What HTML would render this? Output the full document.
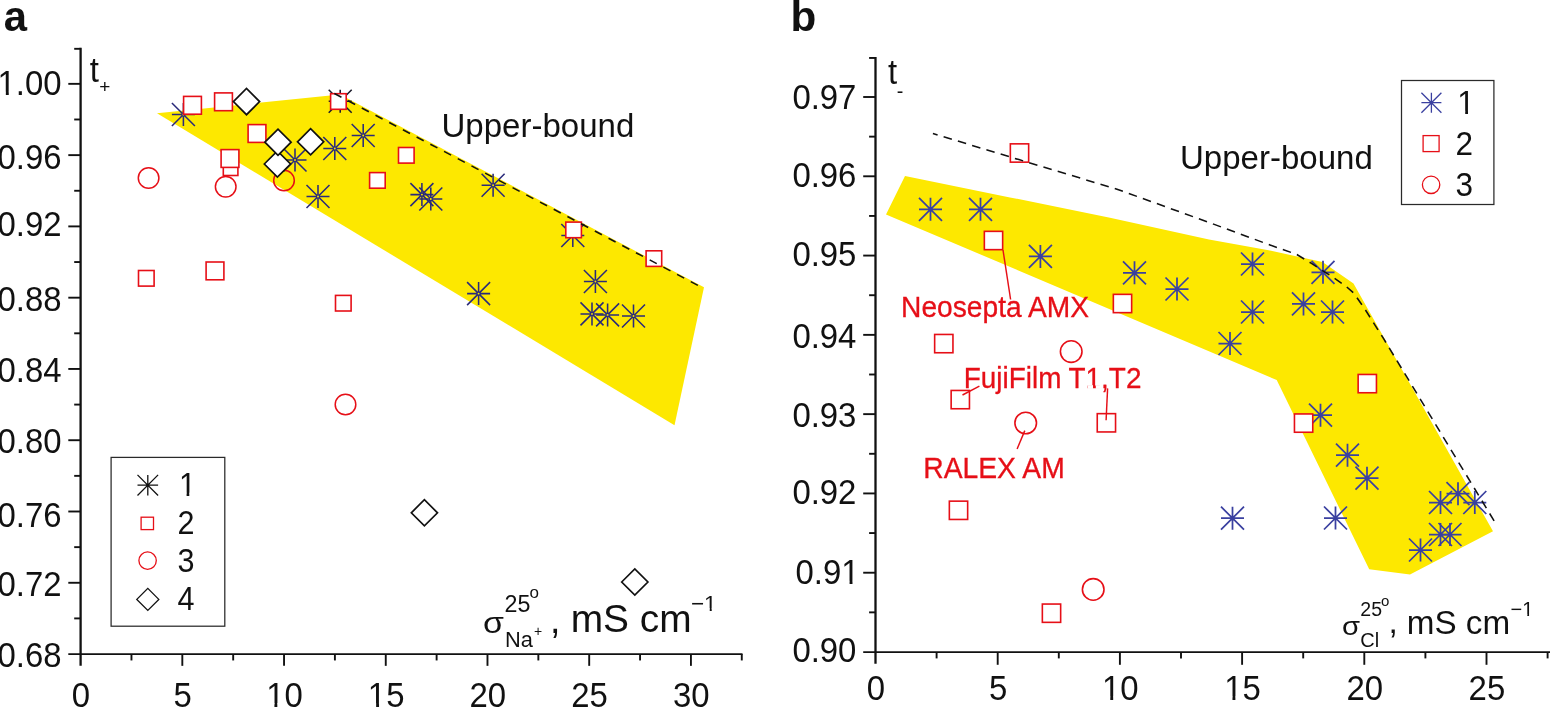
<!DOCTYPE html>
<html lang="en"><head><meta charset="utf-8"><title>Figure: transport numbers vs conductivity</title>
<style>
html,body{margin:0;padding:0;background:#fff;}
body{width:1550px;height:708px;overflow:hidden;}
svg{display:block;}
text{font-family:"Liberation Sans",Arial,sans-serif;}
</style></head><body>
<svg width="1550" height="708" viewBox="0 0 1550 708">
<rect width="1550" height="708" fill="#fff"/>
<polygon points="157,113.3 340,94.5 704,287.3 674.5,425.2" fill="#fde800"/>
<line x1="80.6" y1="47.86" x2="80.6" y2="665.85" stroke="#111111" stroke-width="2.3" />
<line x1="68.3" y1="654.05" x2="742.5" y2="654.05" stroke="#111111" stroke-width="1.8" />
<line x1="68.3" y1="83.85" x2="80.6" y2="83.85" stroke="#111111" stroke-width="1.9" />
<text transform="translate(61.6 95.1) scale(0.94 1)" font-size="35" fill="#111111" text-anchor="end" >1.00</text>
<rect x="-0.73" y="91.79" width="6.57" height="4.21" fill="#fff"/>
<rect x="8.75" y="91.79" width="6.31" height="4.21" fill="#fff"/>
<line x1="74.2" y1="48.81" x2="80.6" y2="48.81" stroke="#111111" stroke-width="1.9" />
<line x1="68.3" y1="155.13" x2="80.6" y2="155.13" stroke="#111111" stroke-width="1.9" />
<text transform="translate(61.6 168.9) scale(0.94 1)" font-size="35" fill="#111111" text-anchor="end" >0.96</text>
<line x1="74.2" y1="119.49" x2="80.6" y2="119.49" stroke="#111111" stroke-width="1.9" />
<line x1="68.3" y1="226.4" x2="80.6" y2="226.4" stroke="#111111" stroke-width="1.9" />
<text transform="translate(61.6 236) scale(0.94 1)" font-size="35" fill="#111111" text-anchor="end" >0.92</text>
<line x1="74.2" y1="190.76" x2="80.6" y2="190.76" stroke="#111111" stroke-width="1.9" />
<line x1="68.3" y1="297.68" x2="80.6" y2="297.68" stroke="#111111" stroke-width="1.9" />
<text transform="translate(61.6 311.45) scale(0.94 1)" font-size="35" fill="#111111" text-anchor="end" >0.88</text>
<line x1="74.2" y1="262.04" x2="80.6" y2="262.04" stroke="#111111" stroke-width="1.9" />
<line x1="68.3" y1="368.95" x2="80.6" y2="368.95" stroke="#111111" stroke-width="1.9" />
<text transform="translate(61.6 382.2) scale(0.94 1)" font-size="35" fill="#111111" text-anchor="end" >0.84</text>
<line x1="74.2" y1="333.31" x2="80.6" y2="333.31" stroke="#111111" stroke-width="1.9" />
<line x1="68.3" y1="440.22" x2="80.6" y2="440.22" stroke="#111111" stroke-width="1.9" />
<text transform="translate(61.6 452.7) scale(0.94 1)" font-size="35" fill="#111111" text-anchor="end" >0.80</text>
<line x1="74.2" y1="404.59" x2="80.6" y2="404.59" stroke="#111111" stroke-width="1.9" />
<line x1="68.3" y1="511.5" x2="80.6" y2="511.5" stroke="#111111" stroke-width="1.9" />
<text transform="translate(61.6 526.7) scale(0.94 1)" font-size="35" fill="#111111" text-anchor="end" >0.76</text>
<line x1="74.2" y1="475.86" x2="80.6" y2="475.86" stroke="#111111" stroke-width="1.9" />
<line x1="68.3" y1="582.78" x2="80.6" y2="582.78" stroke="#111111" stroke-width="1.9" />
<text transform="translate(61.6 595.5) scale(0.94 1)" font-size="35" fill="#111111" text-anchor="end" >0.72</text>
<line x1="74.2" y1="547.14" x2="80.6" y2="547.14" stroke="#111111" stroke-width="1.9" />
<text transform="translate(61.6 667.25) scale(0.94 1)" font-size="35" fill="#111111" text-anchor="end" >0.68</text>
<line x1="74.2" y1="618.41" x2="80.6" y2="618.41" stroke="#111111" stroke-width="1.9" />
<text transform="translate(81 706.5) scale(0.94 1)" font-size="35" fill="#111111" text-anchor="middle" >0</text>
<line x1="131.46" y1="654.05" x2="131.46" y2="660.45" stroke="#111111" stroke-width="1.9" />
<line x1="182.32" y1="654.05" x2="182.32" y2="665.85" stroke="#111111" stroke-width="1.9" />
<text transform="translate(182.72 706.5) scale(0.94 1)" font-size="35" fill="#111111" text-anchor="middle" >5</text>
<line x1="233.18" y1="654.05" x2="233.18" y2="660.45" stroke="#111111" stroke-width="1.9" />
<line x1="284.04" y1="654.05" x2="284.04" y2="665.85" stroke="#111111" stroke-width="1.9" />
<text transform="translate(284.44 706.5) scale(0.94 1)" font-size="35" fill="#111111" text-anchor="middle" >10</text>
<rect x="267.85" y="703.19" width="6.57" height="4.21" fill="#fff"/>
<rect x="277.32" y="703.19" width="6.31" height="4.21" fill="#fff"/>
<line x1="334.9" y1="654.05" x2="334.9" y2="660.45" stroke="#111111" stroke-width="1.9" />
<line x1="385.76" y1="654.05" x2="385.76" y2="665.85" stroke="#111111" stroke-width="1.9" />
<text transform="translate(386.16 706.5) scale(0.94 1)" font-size="35" fill="#111111" text-anchor="middle" >15</text>
<rect x="369.57" y="703.19" width="6.57" height="4.21" fill="#fff"/>
<rect x="379.04" y="703.19" width="6.31" height="4.21" fill="#fff"/>
<line x1="436.62" y1="654.05" x2="436.62" y2="660.45" stroke="#111111" stroke-width="1.9" />
<line x1="487.48" y1="654.05" x2="487.48" y2="665.85" stroke="#111111" stroke-width="1.9" />
<text transform="translate(487.88 706.5) scale(0.94 1)" font-size="35" fill="#111111" text-anchor="middle" >20</text>
<line x1="538.34" y1="654.05" x2="538.34" y2="660.45" stroke="#111111" stroke-width="1.9" />
<line x1="589.2" y1="654.05" x2="589.2" y2="665.85" stroke="#111111" stroke-width="1.9" />
<text transform="translate(589.6 706.5) scale(0.94 1)" font-size="35" fill="#111111" text-anchor="middle" >25</text>
<line x1="640.06" y1="654.05" x2="640.06" y2="660.45" stroke="#111111" stroke-width="1.9" />
<line x1="690.92" y1="654.05" x2="690.92" y2="665.85" stroke="#111111" stroke-width="1.9" />
<text transform="translate(691.32 706.5) scale(0.94 1)" font-size="35" fill="#111111" text-anchor="middle" >30</text>
<line x1="741.78" y1="654.05" x2="741.78" y2="660.45" stroke="#111111" stroke-width="1.9" />
<mask id="holesA" maskUnits="userSpaceOnUse" x="0" y="0" width="775" height="708"><rect width="775" height="708" fill="#fff"/><circle cx="183.4" cy="114.5" r="0.95" fill="#000"/><circle cx="295" cy="160" r="0.95" fill="#000"/><circle cx="334.8" cy="148.5" r="0.95" fill="#000"/><circle cx="363.2" cy="135.5" r="0.95" fill="#000"/><circle cx="318" cy="196.5" r="0.95" fill="#000"/><circle cx="421.9" cy="194.6" r="0.95" fill="#000"/><circle cx="430.8" cy="199" r="0.95" fill="#000"/><circle cx="493.1" cy="185.3" r="0.95" fill="#000"/><circle cx="572.8" cy="235.5" r="0.95" fill="#000"/><circle cx="595.4" cy="281.5" r="0.95" fill="#000"/><circle cx="478.6" cy="293.6" r="0.95" fill="#000"/><circle cx="592" cy="313.9" r="0.95" fill="#000"/><circle cx="607.6" cy="314.9" r="0.95" fill="#000"/><circle cx="633.5" cy="316" r="0.95" fill="#000"/></mask>
<g mask="url(#holesA)">
<path d="M171.9 114.5H194.9M183.4 103V126M171.9 103L194.9 126M171.9 126L194.9 103" stroke="#2a2a7a" stroke-width="1.55" fill="none"/>
<path d="M283.5 160H306.5M295 148.5V171.5M283.5 148.5L306.5 171.5M283.5 171.5L306.5 148.5" stroke="#2a2a7a" stroke-width="1.55" fill="none"/>
<path d="M323.3 148.5H346.3M334.8 137V160M323.3 137L346.3 160M323.3 160L346.3 137" stroke="#2a2a7a" stroke-width="1.55" fill="none"/>
<path d="M351.7 135.5H374.7M363.2 124V147M351.7 124L374.7 147M351.7 147L374.7 124" stroke="#2a2a7a" stroke-width="1.55" fill="none"/>
<path d="M306.5 196.5H329.5M318 185V208M306.5 185L329.5 208M306.5 208L329.5 185" stroke="#2a2a7a" stroke-width="1.55" fill="none"/>
<path d="M410.4 194.6H433.4M421.9 183.1V206.1M410.4 183.1L433.4 206.1M410.4 206.1L433.4 183.1" stroke="#2a2a7a" stroke-width="1.55" fill="none"/>
<path d="M419.3 199H442.3M430.8 187.5V210.5M419.3 187.5L442.3 210.5M419.3 210.5L442.3 187.5" stroke="#2a2a7a" stroke-width="1.55" fill="none"/>
<path d="M481.6 185.3H504.6M493.1 173.8V196.8M481.6 173.8L504.6 196.8M481.6 196.8L504.6 173.8" stroke="#2a2a7a" stroke-width="1.55" fill="none"/>
<path d="M561.3 235.5H584.3M572.8 224V247M561.3 224L584.3 247M561.3 247L584.3 224" stroke="#2a2a7a" stroke-width="1.55" fill="none"/>
<path d="M583.9 281.5H606.9M595.4 270V293M583.9 270L606.9 293M583.9 293L606.9 270" stroke="#2a2a7a" stroke-width="1.55" fill="none"/>
<path d="M467.1 293.6H490.1M478.6 282.1V305.1M467.1 282.1L490.1 305.1M467.1 305.1L490.1 282.1" stroke="#2a2a7a" stroke-width="1.55" fill="none"/>
<path d="M580.5 313.9H603.5M592 302.4V325.4M580.5 302.4L603.5 325.4M580.5 325.4L603.5 302.4" stroke="#2a2a7a" stroke-width="1.55" fill="none"/>
<path d="M596.1 314.9H619.1M607.6 303.4V326.4M596.1 303.4L619.1 326.4M596.1 326.4L619.1 303.4" stroke="#2a2a7a" stroke-width="1.55" fill="none"/>
<path d="M622 316H645M633.5 304.5V327.5M622 304.5L645 327.5M622 327.5L645 304.5" stroke="#2a2a7a" stroke-width="1.55" fill="none"/>
</g>
<path d="M328.7 101.3H351.7M340.2 89.8V112.8M328.7 89.8L351.7 112.8M328.7 112.8L351.7 89.8" stroke="#1a1a2a" stroke-width="1.55" fill="none"/>
<text transform="translate(3.7 30.5) scale(1.0 1)" font-size="41.8" fill="#111111" font-weight="bold">a</text>
<text transform="translate(89.8 81.5) scale(0.94 1)" font-size="35" fill="#111111" >t</text>
<text transform="translate(99.2 93.4) scale(1.0 1)" font-size="19" fill="#111111" >+</text>
<text transform="translate(441.5 136.7) scale(0.98 1)" font-size="33.7" fill="#111111" >Upper-bound</text>
<rect x="223.3" y="160.9" width="14.6" height="14.6" stroke="#e60f17" stroke-width="1.6" fill="#fff"/>
<rect x="183.6" y="96.4" width="17.8" height="17.8" stroke="#e60f17" stroke-width="1.6" fill="#fff"/>
<rect x="214.6" y="92.9" width="17.8" height="17.8" stroke="#e60f17" stroke-width="1.6" fill="#fff"/>
<rect x="248.1" y="124.6" width="17.8" height="17.8" stroke="#e60f17" stroke-width="1.6" fill="#fff"/>
<rect x="221.1" y="149.6" width="17.8" height="17.8" stroke="#e60f17" stroke-width="1.6" fill="#fff"/>
<rect x="206.1" y="262" width="17.8" height="17.8" stroke="#e60f17" stroke-width="1.6" fill="#fff"/>
<rect x="330.6" y="93.7" width="15.6" height="15.6" stroke="#e60f17" stroke-width="1.6" fill="#fff"/>
<rect x="369.6" y="172.6" width="15.6" height="15.6" stroke="#e60f17" stroke-width="1.6" fill="#fff"/>
<rect x="138.5" y="270.5" width="15.6" height="15.6" stroke="#e60f17" stroke-width="1.6" fill="#fff"/>
<rect x="335.5" y="295.4" width="15.6" height="15.6" stroke="#e60f17" stroke-width="1.6" fill="#fff"/>
<rect x="398.5" y="147.5" width="15.6" height="15.6" stroke="#e60f17" stroke-width="1.6" fill="#fff"/>
<rect x="565.8" y="222.1" width="15.6" height="15.6" stroke="#e60f17" stroke-width="1.6" fill="#fff"/>
<rect x="646.1" y="250.8" width="15.6" height="15.6" stroke="#e60f17" stroke-width="1.6" fill="#fff"/>
<line x1="328" y1="90.2" x2="700" y2="286.5" stroke="#111111" stroke-width="1.55" stroke-dasharray="8 7.5" stroke-dashoffset="-7.2"/>
<circle cx="148.6" cy="178" r="10.3" stroke="#e60f17" stroke-width="1.5" fill="none"/>
<circle cx="225.7" cy="186.7" r="10.3" stroke="#e60f17" stroke-width="1.5" fill="none"/>
<circle cx="284" cy="180.5" r="10.3" stroke="#e60f17" stroke-width="1.5" fill="none"/>
<circle cx="345.5" cy="404.5" r="10.3" stroke="#e60f17" stroke-width="1.5" fill="none"/>
<path d="M264.3 164L277.4 150.9L290.5 164L277.4 177.1Z" stroke="#111111" stroke-width="1.7" fill="#fff"/>
<path d="M233.4 101.6L246.5 88.5L259.6 101.6L246.5 114.7Z" stroke="#111111" stroke-width="1.7" fill="#fff"/>
<path d="M264.9 142.2L278 129.1L291.1 142.2L278 155.3Z" stroke="#111111" stroke-width="1.7" fill="#fff"/>
<path d="M297.5 141.8L310.6 128.7L323.7 141.8L310.6 154.9Z" stroke="#111111" stroke-width="1.7" fill="#fff"/>
<path d="M411.3 512.8L424.4 499.7L437.5 512.8L424.4 525.9Z" stroke="#111111" stroke-width="1.7" fill="#fff"/>
<path d="M621.7 582L634.8 568.9L647.9 582L634.8 595.1Z" stroke="#111111" stroke-width="1.7" fill="#fff"/>
<rect x="111.1" y="457.4" width="113.7" height="168.8" fill="#fff" stroke="#2a2a2a" stroke-width="1.25"/>
<path d="M137.5 485.2H158.1M147.8 474.9V495.5M137.5 474.9L158.1 495.5M137.5 495.5L158.1 474.9" stroke="#111111" stroke-width="1.3" fill="none"/>
<rect x="141.1" y="517.2" width="12.4" height="12.4" stroke="#e60f17" stroke-width="1.3" fill="#fff"/>
<circle cx="147.6" cy="560.6" r="8.7" stroke="#e60f17" stroke-width="1.3" fill="none"/>
<path d="M136.8 599.4L147.8 588.4L158.8 599.4L147.8 610.4Z" stroke="#111111" stroke-width="1.3" fill="#fff"/>
<text transform="translate(178.9 495.9) scale(0.94 1)" font-size="32.5" fill="#111111" >1</text>
<rect x="180.43" y="492.77" width="6.16" height="4.03" fill="#fff"/>
<rect x="189.28" y="492.77" width="5.92" height="4.03" fill="#fff"/>
<text transform="translate(177.5 533.8) scale(0.94 1)" font-size="32.5" fill="#111111" >2</text>
<text transform="translate(177.5 572.1) scale(0.94 1)" font-size="32.5" fill="#111111" >3</text>
<text transform="translate(177.5 610.1) scale(0.94 1)" font-size="32.5" fill="#111111" >4</text>
<text transform="translate(483 632.5) scale(1.15 1)" font-size="29.5" fill="#111111" >σ</text>
<text transform="translate(504.5 611.5) scale(0.97 1)" font-size="24" fill="#111111" >25</text>
<text transform="translate(529.5 598.2) scale(1.0 1)" font-size="17" fill="#111111" >o</text>
<text transform="translate(505 647) scale(0.97 1)" font-size="22.5" fill="#111111" >Na</text>
<text transform="translate(534 635.5) scale(1.0 1)" font-size="14" fill="#111111" >+</text>
<text transform="translate(550 633) scale(0.95 1)" font-size="39.5" fill="#111111" >,</text>
<text transform="translate(570.7 632) scale(0.985 1)" font-size="39.5" fill="#111111" >mS cm</text>
<text transform="translate(716.6 610.7) scale(1.0 1)" font-size="22.5" fill="#111111" text-anchor="end" >−1</text>
<rect x="705" y="608.32" width="4.74" height="3.28" fill="#fff"/>
<rect x="711.73" y="608.32" width="4.57" height="3.28" fill="#fff"/>
<polygon points="905,176 1010,197.4 1110,217.7 1209,239.4 1270,250.6 1322.5,262 1353.5,283.5 1493,531.3 1410,574.4 1369.2,569.2 1276.7,380 886,214.4" fill="#fde800"/>
<line x1="875.5" y1="57.01" x2="875.5" y2="663.8" stroke="#111111" stroke-width="2.3" />
<line x1="863.2" y1="652" x2="1550" y2="652" stroke="#111111" stroke-width="1.75" />
<line x1="863.2" y1="97" x2="875.5" y2="97" stroke="#111111" stroke-width="1.9" />
<text transform="translate(856.4 109) scale(0.94 1)" font-size="35" fill="#111111" text-anchor="end" >0.97</text>
<line x1="869.1" y1="57.96" x2="875.5" y2="57.96" stroke="#111111" stroke-width="1.9" />
<line x1="863.2" y1="176.29" x2="875.5" y2="176.29" stroke="#111111" stroke-width="1.9" />
<text transform="translate(856.4 187.4) scale(0.94 1)" font-size="35" fill="#111111" text-anchor="end" >0.96</text>
<line x1="869.1" y1="136.64" x2="875.5" y2="136.64" stroke="#111111" stroke-width="1.9" />
<line x1="863.2" y1="255.57" x2="875.5" y2="255.57" stroke="#111111" stroke-width="1.9" />
<text transform="translate(856.4 266) scale(0.94 1)" font-size="35" fill="#111111" text-anchor="end" >0.95</text>
<line x1="869.1" y1="215.93" x2="875.5" y2="215.93" stroke="#111111" stroke-width="1.9" />
<line x1="863.2" y1="334.86" x2="875.5" y2="334.86" stroke="#111111" stroke-width="1.9" />
<text transform="translate(856.4 347.8) scale(0.94 1)" font-size="35" fill="#111111" text-anchor="end" >0.94</text>
<line x1="869.1" y1="295.22" x2="875.5" y2="295.22" stroke="#111111" stroke-width="1.9" />
<line x1="863.2" y1="414.14" x2="875.5" y2="414.14" stroke="#111111" stroke-width="1.9" />
<text transform="translate(856.4 426.7) scale(0.94 1)" font-size="35" fill="#111111" text-anchor="end" >0.93</text>
<line x1="869.1" y1="374.5" x2="875.5" y2="374.5" stroke="#111111" stroke-width="1.9" />
<line x1="863.2" y1="493.43" x2="875.5" y2="493.43" stroke="#111111" stroke-width="1.9" />
<text transform="translate(856.4 503.6) scale(0.94 1)" font-size="35" fill="#111111" text-anchor="end" >0.92</text>
<line x1="869.1" y1="453.79" x2="875.5" y2="453.79" stroke="#111111" stroke-width="1.9" />
<line x1="863.2" y1="572.72" x2="875.5" y2="572.72" stroke="#111111" stroke-width="1.9" />
<text transform="translate(859.6 584.2) scale(0.94 1)" font-size="35" fill="#111111" text-anchor="end" >0.91</text>
<rect x="843.01" y="580.89" width="6.57" height="4.21" fill="#fff"/>
<rect x="852.48" y="580.89" width="6.31" height="4.21" fill="#fff"/>
<line x1="869.1" y1="533.07" x2="875.5" y2="533.07" stroke="#111111" stroke-width="1.9" />
<text transform="translate(856.4 661.8) scale(0.94 1)" font-size="35" fill="#111111" text-anchor="end" >0.90</text>
<line x1="869.1" y1="612.36" x2="875.5" y2="612.36" stroke="#111111" stroke-width="1.9" />
<text transform="translate(875.9 699.8) scale(0.94 1)" font-size="35" fill="#111111" text-anchor="middle" >0</text>
<line x1="936.6" y1="652" x2="936.6" y2="658.4" stroke="#111111" stroke-width="1.9" />
<line x1="997.7" y1="652" x2="997.7" y2="664.8" stroke="#111111" stroke-width="1.9" />
<text transform="translate(998.1 699.8) scale(0.94 1)" font-size="35" fill="#111111" text-anchor="middle" >5</text>
<line x1="1058.8" y1="652" x2="1058.8" y2="658.4" stroke="#111111" stroke-width="1.9" />
<line x1="1119.9" y1="652" x2="1119.9" y2="664.8" stroke="#111111" stroke-width="1.9" />
<text transform="translate(1120.3 699.8) scale(0.94 1)" font-size="35" fill="#111111" text-anchor="middle" >10</text>
<rect x="1103.71" y="696.49" width="6.57" height="4.21" fill="#fff"/>
<rect x="1113.18" y="696.49" width="6.31" height="4.21" fill="#fff"/>
<line x1="1181" y1="652" x2="1181" y2="658.4" stroke="#111111" stroke-width="1.9" />
<line x1="1242.1" y1="652" x2="1242.1" y2="664.8" stroke="#111111" stroke-width="1.9" />
<text transform="translate(1242.5 699.8) scale(0.94 1)" font-size="35" fill="#111111" text-anchor="middle" >15</text>
<rect x="1225.91" y="696.49" width="6.57" height="4.21" fill="#fff"/>
<rect x="1235.38" y="696.49" width="6.31" height="4.21" fill="#fff"/>
<line x1="1303.2" y1="652" x2="1303.2" y2="658.4" stroke="#111111" stroke-width="1.9" />
<line x1="1364.3" y1="652" x2="1364.3" y2="664.8" stroke="#111111" stroke-width="1.9" />
<text transform="translate(1364.7 699.8) scale(0.94 1)" font-size="35" fill="#111111" text-anchor="middle" >20</text>
<line x1="1425.4" y1="652" x2="1425.4" y2="658.4" stroke="#111111" stroke-width="1.9" />
<line x1="1486.5" y1="652" x2="1486.5" y2="664.8" stroke="#111111" stroke-width="1.9" />
<text transform="translate(1486.9 699.8) scale(0.94 1)" font-size="35" fill="#111111" text-anchor="middle" >25</text>
<line x1="1547.6" y1="652" x2="1547.6" y2="658.4" stroke="#111111" stroke-width="1.9" />
<text transform="translate(790.6 30.8) scale(1.0 1)" font-size="42.2" fill="#111111" font-weight="bold">b</text>
<text transform="translate(888 83.5) scale(0.94 1)" font-size="35" fill="#111111" >t</text>
<text transform="translate(896.8 98) scale(0.94 1)" font-size="21" fill="#111111" >-</text>
<text transform="translate(1180 168.5) scale(0.98 1)" font-size="33.7" fill="#111111" >Upper-bound</text>
<path d="M919 209.3H942M930.5 197.8V220.8M919 197.8L942 220.8M919 220.8L942 197.8" stroke="#3a40a0" stroke-width="1.75" fill="none"/>
<path d="M969 209.3H992M980.5 197.8V220.8M969 197.8L992 220.8M969 220.8L992 197.8" stroke="#3a40a0" stroke-width="1.75" fill="none"/>
<path d="M1028.9 256.4H1051.9M1040.4 244.9V267.9M1028.9 244.9L1051.9 267.9M1028.9 267.9L1051.9 244.9" stroke="#3a40a0" stroke-width="1.75" fill="none"/>
<path d="M1123 272.8H1146M1134.5 261.3V284.3M1123 261.3L1146 284.3M1123 284.3L1146 261.3" stroke="#3a40a0" stroke-width="1.75" fill="none"/>
<path d="M1165.5 289H1188.5M1177 277.5V300.5M1165.5 277.5L1188.5 300.5M1165.5 300.5L1188.5 277.5" stroke="#3a40a0" stroke-width="1.75" fill="none"/>
<path d="M1241 264H1264M1252.5 252.5V275.5M1241 252.5L1264 275.5M1241 275.5L1264 252.5" stroke="#3a40a0" stroke-width="1.75" fill="none"/>
<path d="M1241 312H1264M1252.5 300.5V323.5M1241 300.5L1264 323.5M1241 323.5L1264 300.5" stroke="#3a40a0" stroke-width="1.75" fill="none"/>
<path d="M1292 303.9H1315M1303.5 292.4V315.4M1292 292.4L1315 315.4M1292 315.4L1315 292.4" stroke="#3a40a0" stroke-width="1.75" fill="none"/>
<path d="M1311.5 272.3H1334.5M1323 260.8V283.8M1311.5 260.8L1334.5 283.8M1311.5 283.8L1334.5 260.8" stroke="#3a40a0" stroke-width="1.75" fill="none"/>
<path d="M1321 312H1344M1332.5 300.5V323.5M1321 300.5L1344 323.5M1321 323.5L1344 300.5" stroke="#3a40a0" stroke-width="1.75" fill="none"/>
<path d="M1218.5 343.5H1241.5M1230 332V355M1218.5 332L1241.5 355M1218.5 355L1241.5 332" stroke="#3a40a0" stroke-width="1.75" fill="none"/>
<path d="M1309 415.2H1332M1320.5 403.7V426.7M1309 403.7L1332 426.7M1309 426.7L1332 403.7" stroke="#3a40a0" stroke-width="1.75" fill="none"/>
<path d="M1336 455.2H1359M1347.5 443.7V466.7M1336 443.7L1359 466.7M1336 466.7L1359 443.7" stroke="#3a40a0" stroke-width="1.75" fill="none"/>
<path d="M1355.5 478.2H1378.5M1367 466.7V489.7M1355.5 466.7L1378.5 489.7M1355.5 489.7L1378.5 466.7" stroke="#3a40a0" stroke-width="1.75" fill="none"/>
<path d="M1221 518.2H1244M1232.5 506.7V529.7M1221 506.7L1244 529.7M1221 529.7L1244 506.7" stroke="#3a40a0" stroke-width="1.75" fill="none"/>
<path d="M1324 518H1347M1335.5 506.5V529.5M1324 506.5L1347 529.5M1324 529.5L1347 506.5" stroke="#3a40a0" stroke-width="1.75" fill="none"/>
<path d="M1429 502.5H1452M1440.5 491V514M1429 491L1452 514M1429 514L1452 491" stroke="#3a40a0" stroke-width="1.75" fill="none"/>
<path d="M1446.5 493.7H1469.5M1458 482.2V505.2M1446.5 482.2L1469.5 505.2M1446.5 505.2L1469.5 482.2" stroke="#3a40a0" stroke-width="1.75" fill="none"/>
<path d="M1463.3 502.5H1486.3M1474.8 491V514M1463.3 491L1486.3 514M1463.3 514L1486.3 491" stroke="#3a40a0" stroke-width="1.75" fill="none"/>
<path d="M1429 534.5H1452M1440.5 523V546M1429 523L1452 546M1429 546L1452 523" stroke="#3a40a0" stroke-width="1.75" fill="none"/>
<path d="M1438.5 534.5H1461.5M1450 523V546M1438.5 523L1461.5 546M1438.5 546L1461.5 523" stroke="#3a40a0" stroke-width="1.75" fill="none"/>
<path d="M1409 550H1432M1420.5 538.5V561.5M1409 538.5L1432 561.5M1409 561.5L1432 538.5" stroke="#3a40a0" stroke-width="1.75" fill="none"/>
<rect x="1010.35" y="143.85" width="18.3" height="18.3" stroke="#e60f17" stroke-width="1.6" fill="#fff"/>
<rect x="984.35" y="231.35" width="18.3" height="18.3" stroke="#e60f17" stroke-width="1.6" fill="#fff"/>
<rect x="1113.35" y="294.35" width="18.3" height="18.3" stroke="#e60f17" stroke-width="1.6" fill="#fff"/>
<rect x="934.65" y="334.45" width="18.3" height="18.3" stroke="#e60f17" stroke-width="1.6" fill="#fff"/>
<rect x="951.15" y="390.45" width="18.3" height="18.3" stroke="#e60f17" stroke-width="1.6" fill="#fff"/>
<rect x="1097.25" y="413.65" width="18.3" height="18.3" stroke="#e60f17" stroke-width="1.6" fill="#fff"/>
<rect x="949.35" y="501.15" width="18.3" height="18.3" stroke="#e60f17" stroke-width="1.6" fill="#fff"/>
<rect x="1042.35" y="604.05" width="18.3" height="18.3" stroke="#e60f17" stroke-width="1.6" fill="#fff"/>
<rect x="1358.15" y="374.45" width="18.3" height="18.3" stroke="#e60f17" stroke-width="1.6" fill="#fff"/>
<rect x="1294.45" y="413.95" width="18.3" height="18.3" stroke="#e60f17" stroke-width="1.6" fill="#fff"/>
<circle cx="1071.2" cy="351.6" r="10.8" stroke="#e60f17" stroke-width="1.6" fill="none"/>
<circle cx="1025.7" cy="423" r="10.8" stroke="#e60f17" stroke-width="1.6" fill="none"/>
<circle cx="1093.2" cy="589.4" r="10.8" stroke="#e60f17" stroke-width="1.6" fill="none"/>
<polyline points="932.9,133.5 1018.9,159.6 1117,189.2 1208.9,222.4 1270,245 1296.9,254.5 1311.1,263.2 1333.3,277.5 1345.9,286.2 1353.9,293.3 1364.9,309.1 1383.9,339.2 1495.3,522.8" fill="none" stroke="#111111" stroke-width="1.55" stroke-dasharray="8.6 6.3" stroke-dashoffset="3.7"/>
<text transform="translate(901.1 317) scale(0.985 1)" font-size="28.6" fill="#e60f17" stroke="#e60f17" stroke-width="0.3" >Neosepta AMX</text>
<text transform="translate(963.8 388) scale(0.975 1)" font-size="28.6" fill="#e60f17" stroke="#e60f17" stroke-width="0.3" >FujiFilm T1,T2</text>
<rect x="1087.49" y="385.16" width="5.54" height="3.74" fill="#fff"/>
<rect x="1095.79" y="385.16" width="5.47" height="3.74" fill="#fff"/>
<text transform="translate(923.2 477.8) scale(0.99 1)" font-size="28.6" fill="#e60f17" stroke="#e60f17" stroke-width="0.3" >RALEX AM</text>
<line x1="1003" y1="250" x2="1010.6" y2="299.5" stroke="#e60f17" stroke-width="1.45" />
<line x1="979.4" y1="386.1" x2="962.5" y2="395" stroke="#e60f17" stroke-width="1.45" />
<line x1="1107.6" y1="388.4" x2="1106.1" y2="420.2" stroke="#e60f17" stroke-width="1.45" />
<line x1="1017.1" y1="449" x2="1024.8" y2="430.6" stroke="#e60f17" stroke-width="1.45" />
<rect x="1401.5" y="80.5" width="92.4" height="124" fill="#fff" stroke="#2a2a2a" stroke-width="1.25"/>
<path d="M1421.4 102.7H1441.4M1431.4 92.7V112.7M1421.4 92.7L1441.4 112.7M1421.4 112.7L1441.4 92.7" stroke="#3a40a0" stroke-width="1.3" fill="none"/>
<rect x="1423.1" y="135.6" width="16" height="16" stroke="#e60f17" stroke-width="1.3" fill="#fff"/>
<circle cx="1431.1" cy="184.8" r="8.7" stroke="#e60f17" stroke-width="1.3" fill="none"/>
<text transform="translate(1457.3 114) scale(0.94 1)" font-size="33.5" fill="#111111" >1</text>
<rect x="1458.9" y="110.8" width="6.32" height="4.1" fill="#fff"/>
<rect x="1468" y="110.8" width="6.07" height="4.1" fill="#fff"/>
<text transform="translate(1455.5 154.5) scale(0.94 1)" font-size="33.5" fill="#111111" >2</text>
<text transform="translate(1455.5 196) scale(0.94 1)" font-size="33.5" fill="#111111" >3</text>
<text transform="translate(1342 634.8) scale(1.15 1)" font-size="25.4" fill="#111111" >σ</text>
<text transform="translate(1360.3 615.5) scale(1.0 1)" font-size="19.5" fill="#111111" >25</text>
<text transform="translate(1381 605.8) scale(1.0 1)" font-size="15" fill="#111111" >o</text>
<text transform="translate(1360.3 647.2) scale(1.0 1)" font-size="20" fill="#111111" >Cl</text>
<text transform="translate(1388.5 633.4) scale(1.0 1)" font-size="33.5" fill="#111111" >,</text>
<text transform="translate(1406.8 634) scale(0.992 1)" font-size="33.5" fill="#111111" >mS cm</text>
<text transform="translate(1533.4 616.2) scale(1.0 1)" font-size="20" fill="#111111" text-anchor="end" >−1</text>
<rect x="1523" y="614.01" width="4.31" height="3.09" fill="#fff"/>
<rect x="1529.07" y="614.01" width="4.15" height="3.09" fill="#fff"/>
</svg>
</body></html>
